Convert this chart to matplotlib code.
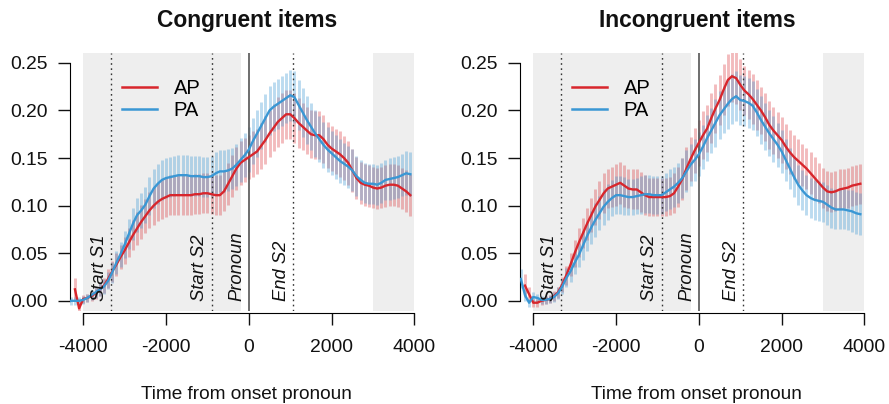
import numpy as np
import matplotlib
matplotlib.use("Agg")
import matplotlib.pyplot as plt

plt.rcParams['font.family'] = ['Liberation Sans', 'DejaVu Sans']

nan = np.nan
# time bins (ms from pronoun onset)
time = np.arange(-4300, 4000, 100)

# ---- Congruent items ----
cong_AP = [nan, 0.012, -0.008, 0.002, 0.003, 0.005, 0.008, 0.012, 0.016, 0.023,
           0.031, 0.038, 0.046, 0.053, 0.061, 0.069, 0.076, 0.083, 0.089, 0.095,
           0.100, 0.104, 0.107, 0.109, 0.111, 0.111, 0.111, 0.111, 0.111, 0.111,
           0.112, 0.112, 0.113, 0.113, 0.112, 0.111, 0.111, 0.115, 0.123, 0.131,
           0.139, 0.145, 0.148, 0.151, 0.154, 0.157, 0.163, 0.169, 0.176, 0.182,
           0.188, 0.192, 0.196, 0.196, 0.192, 0.187, 0.183, 0.179, 0.175, 0.174,
           0.174, 0.170, 0.164, 0.160, 0.157, 0.154, 0.150, 0.145, 0.137, 0.129,
           0.124, 0.122, 0.121, 0.119, 0.118, 0.119, 0.121, 0.122, 0.122, 0.121,
           0.118, 0.115, 0.111]
cong_AP_ci = [0.014, 0.012, 0.008, 0.004, 0.004, 0.005, 0.006, 0.007, 0.008, 0.010,
              0.011, 0.012, 0.013, 0.014, 0.015, 0.016, 0.017, 0.018, 0.018, 0.019,
              0.020, 0.020, 0.021, 0.021, 0.021, 0.021, 0.021, 0.021, 0.021, 0.021,
              0.021, 0.021, 0.021, 0.021, 0.021, 0.021, 0.021, 0.021, 0.022, 0.022,
              0.023, 0.023, 0.023, 0.023, 0.024, 0.024, 0.024, 0.025, 0.025, 0.025,
              0.026, 0.026, 0.026, 0.026, 0.026, 0.026, 0.025, 0.025, 0.025, 0.025,
              0.025, 0.025, 0.024, 0.024, 0.024, 0.024, 0.023, 0.023, 0.023, 0.022,
              0.022, 0.022, 0.022, 0.022, 0.022, 0.022, 0.022, 0.022, 0.022, 0.022,
              0.022, 0.022, 0.022]
cong_PA = [0.000, 0.000, 0.000, 0.001, 0.003, 0.006, 0.009, 0.012, 0.015, 0.021,
           0.030, 0.040, 0.049, 0.059, 0.070, 0.081, 0.090, 0.095, 0.101, 0.110,
           0.118, 0.123, 0.127, 0.129, 0.130, 0.131, 0.132, 0.132, 0.132, 0.131,
           0.131, 0.131, 0.130, 0.130, 0.131, 0.134, 0.136, 0.136, 0.137, 0.139,
           0.143, 0.148, 0.153, 0.159, 0.168, 0.176, 0.184, 0.192, 0.200, 0.204,
           0.207, 0.210, 0.213, 0.216, 0.214, 0.206, 0.198, 0.190, 0.183, 0.176,
           0.170, 0.164, 0.159, 0.155, 0.151, 0.147, 0.144, 0.141, 0.137, 0.131,
           0.127, 0.124, 0.123, 0.123, 0.122, 0.124, 0.127, 0.128, 0.129, 0.130,
           0.132, 0.134, 0.133]
cong_PA_ci = [0.004, 0.004, 0.004, 0.004, 0.004, 0.005, 0.006, 0.007, 0.008, 0.009,
              0.011, 0.012, 0.013, 0.014, 0.016, 0.017, 0.018, 0.018, 0.019, 0.020,
              0.020, 0.021, 0.021, 0.021, 0.021, 0.021, 0.021, 0.021, 0.021, 0.021,
              0.021, 0.021, 0.021, 0.021, 0.021, 0.022, 0.022, 0.022, 0.022, 0.022,
              0.022, 0.023, 0.023, 0.024, 0.024, 0.025, 0.025, 0.025, 0.026, 0.026,
              0.026, 0.026, 0.026, 0.027, 0.027, 0.026, 0.026, 0.025, 0.025, 0.025,
              0.024, 0.024, 0.024, 0.023, 0.023, 0.023, 0.022, 0.022, 0.022, 0.021,
              0.021, 0.021, 0.021, 0.021, 0.021, 0.021, 0.021, 0.022, 0.022, 0.022,
              0.022, 0.023, 0.023]

# ---- Incongruent items ----
incong_AP = [nan, 0.016, 0.007, -0.002, -0.002, 0.000, 0.001, 0.002, 0.005, 0.009,
             0.017, 0.027, 0.038, 0.050, 0.061, 0.071, 0.081, 0.090, 0.099, 0.106,
             0.113, 0.118, 0.120, 0.122, 0.124, 0.121, 0.118, 0.117, 0.117, 0.114,
             0.111, 0.109, 0.109, 0.109, 0.109, 0.109, 0.110, 0.113, 0.120, 0.128,
             0.139, 0.149, 0.158, 0.166, 0.174, 0.181, 0.192, 0.202, 0.211, 0.222,
             0.232, 0.236, 0.234, 0.227, 0.221, 0.217, 0.212, 0.206, 0.200, 0.193,
             0.185, 0.179, 0.174, 0.169, 0.162, 0.156, 0.151, 0.147, 0.143, 0.139,
             0.134, 0.129, 0.124, 0.119, 0.115, 0.114, 0.115, 0.117, 0.118, 0.119,
             0.121, 0.122, 0.123]
incong_AP_ci = [0.014, 0.012, 0.008, 0.004, 0.004, 0.004, 0.004, 0.004, 0.005, 0.006,
                0.008, 0.010, 0.012, 0.014, 0.015, 0.016, 0.017, 0.018, 0.019, 0.020,
                0.021, 0.021, 0.021, 0.022, 0.022, 0.022, 0.021, 0.021, 0.021, 0.021,
                0.021, 0.020, 0.020, 0.020, 0.020, 0.020, 0.020, 0.021, 0.021, 0.022,
                0.023, 0.023, 0.024, 0.024, 0.025, 0.025, 0.026, 0.026, 0.026, 0.027,
                0.027, 0.027, 0.027, 0.027, 0.026, 0.026, 0.026, 0.026, 0.025, 0.025,
                0.025, 0.025, 0.024, 0.024, 0.024, 0.023, 0.023, 0.023, 0.022, 0.022,
                0.022, 0.022, 0.021, 0.021, 0.021, 0.021, 0.021, 0.021, 0.021, 0.021,
                0.021, 0.021, 0.021]
incong_PA = [0.023, 0.006, -0.002, 0.004, 0.003, 0.001, 0.001, 0.002, 0.004, 0.008,
             0.015, 0.024, 0.031, 0.040, 0.048, 0.058, 0.068, 0.077, 0.085, 0.092,
             0.099, 0.104, 0.108, 0.111, 0.111, 0.110, 0.109, 0.109, 0.110, 0.111,
             0.112, 0.112, 0.111, 0.111, 0.111, 0.114, 0.117, 0.120, 0.124, 0.129,
             0.136, 0.143, 0.148, 0.154, 0.162, 0.171, 0.179, 0.187, 0.195, 0.201,
             0.207, 0.212, 0.215, 0.211, 0.210, 0.208, 0.205, 0.198, 0.190, 0.183,
             0.176, 0.170, 0.164, 0.157, 0.148, 0.139, 0.130, 0.122, 0.116, 0.111,
             0.108, 0.106, 0.105, 0.104, 0.101, 0.098, 0.096, 0.096, 0.096, 0.095,
             0.094, 0.092, 0.091]
incong_PA_ci = [0.010, 0.006, 0.004, 0.005, 0.004, 0.004, 0.004, 0.004, 0.005, 0.006,
                0.008, 0.010, 0.011, 0.012, 0.013, 0.015, 0.016, 0.017, 0.018, 0.018,
                0.019, 0.019, 0.019, 0.020, 0.020, 0.020, 0.019, 0.019, 0.019, 0.020,
                0.020, 0.020, 0.020, 0.020, 0.020, 0.020, 0.021, 0.021, 0.021, 0.021,
                0.022, 0.022, 0.022, 0.023, 0.023, 0.024, 0.024, 0.025, 0.025, 0.025,
                0.026, 0.026, 0.026, 0.026, 0.026, 0.026, 0.026, 0.025, 0.025, 0.025,
                0.024, 0.024, 0.023, 0.023, 0.022, 0.022, 0.021, 0.021, 0.021, 0.021,
                0.021, 0.021, 0.021, 0.021, 0.021, 0.021, 0.021, 0.021, 0.021, 0.021,
                0.022, 0.022, 0.022]

panel_titles = ["Congruent items", "Incongruent items"]
series_labels = ["AP", "PA"]
event_times = [-3320, -900, 0, 1075]
event_labels = ["Start S1", "Start S2", "Pronoun", "End S2"]
shade_regions = [(-4000, -200), (3000, 4000)]
xticks = [-4000, -2000, 0, 2000, 4000]
yticks = [0.00, 0.05, 0.10, 0.15, 0.20, 0.25]
xlabel = "Time from onset pronoun"

RED = "#D8262C"
BLUE = "#3A97D4"

panels = [
    (cong_AP, cong_AP_ci, cong_PA, cong_PA_ci),
    (incong_AP, incong_AP_ci, incong_PA, incong_PA_ci),
]

fig = plt.figure(figsize=(8.89, 4.04), dpi=100)
W, H = 889, 404
ax_lefts = [70, 520]
ax_w = 357.7
ax_top, ax_bot = 53, 310.7

for i, (ap, apci, pa, paci) in enumerate(panels):
    ax = fig.add_axes([ax_lefts[i] / W, (H - ax_bot) / H, ax_w / W, (ax_bot - ax_top) / H])
    ap = np.array(ap); apci = np.array(apci)
    pa = np.array(pa); paci = np.array(paci)
    for (a, b) in shade_regions:
        ax.axvspan(a, b, color="#EEEEEE", lw=0, zorder=0)
    ax.vlines(time, ap - apci, ap + apci, color=RED, alpha=0.31, lw=2.1, zorder=2)
    ax.vlines(time, pa - paci, pa + paci, color=BLUE, alpha=0.34, lw=2.1, zorder=2)
    for t, lab in zip(event_times, event_labels):
        if t == 0:
            ax.axvline(t, color="#555555", lw=1.2, zorder=3)
        else:
            ax.axvline(t, color="#333333", lw=1.0, ls=(0, (1.2, 2.5)), zorder=3)
        ax.text(t - 290, 0.0, lab, rotation=90, ha="center", va="bottom",
                fontsize=13.2, style="italic", color="#111111", zorder=5)
    ax.plot(time, ap, color=RED, lw=1.7, zorder=4, label=series_labels[0])
    ax.plot(time, pa, color=BLUE, lw=1.7, zorder=4, label=series_labels[1])

    ax.set_xlim(-4320, 4320)
    ax.set_ylim(-0.0104, 0.2604)
    ax.set_xticks(xticks)
    ax.set_xticklabels([str(x) for x in xticks])
    ax.set_yticks(yticks)
    ax.set_yticklabels([f"{y:.2f}" for y in yticks])
    for s in ["top", "right"]:
        ax.spines[s].set_visible(False)
    ax.spines["left"].set_bounds(0, 0.25)
    ax.spines["bottom"].set_bounds(-4000, 4000)
    ax.spines["bottom"].set_position(("outward", 1.5))
    ax.tick_params(axis="both", direction="out", length=8.3, width=1.0,
                   labelsize=13.9, colors="#111111")
    ax.tick_params(axis="y", pad=7.5)
    ax.tick_params(axis="x", pad=10.5)
    ax.patch.set_alpha(0)

    leg = ax.legend(loc="upper left", bbox_to_anchor=(0.146, 0.90), frameon=False,
                    fontsize=14.5, handlelength=1.75, handletextpad=0.8,
                    labelspacing=0.17, borderpad=0, borderaxespad=0)
    for h in leg.get_lines():
        h.set_linewidth(1.8)

    cx = (ax_lefts[i] + ax_w / 2 - 2) / W
    fig.text(cx, 1 - 20.5 / H, panel_titles[i], ha="center", va="center",
             fontsize=16.4, fontweight="bold", color="#111111")
    fig.text(cx, 1 - 394.5 / H, xlabel, ha="center", va="center",
             fontsize=13.7, color="#111111")

fig.savefig("out.png", dpi=100)
